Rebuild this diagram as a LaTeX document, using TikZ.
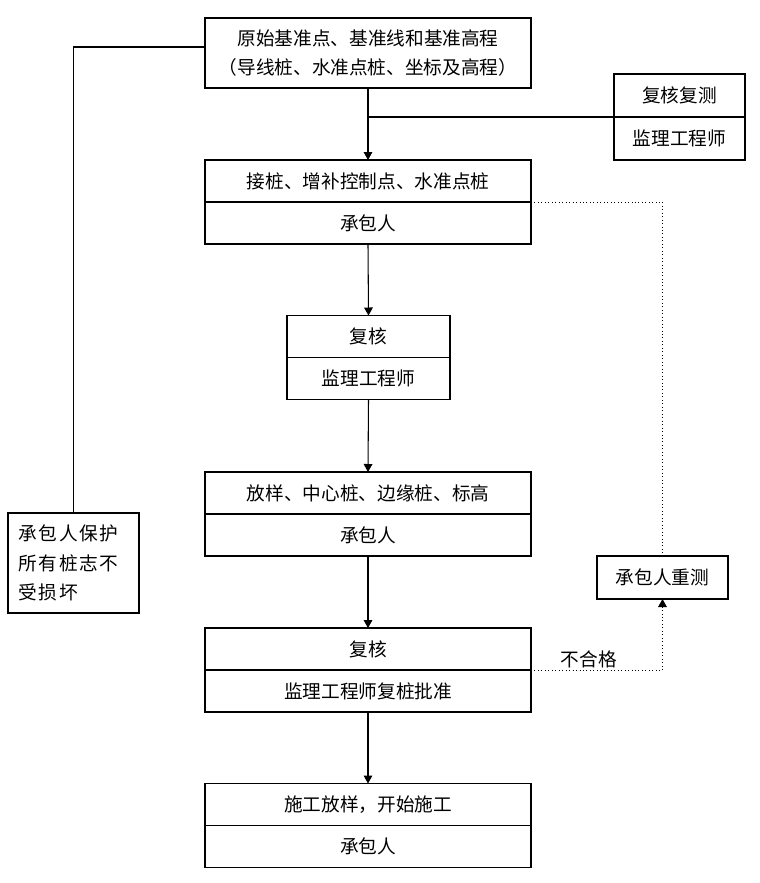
\documentclass[tikz,border=0pt]{standalone}
\usepackage{fontspec}
\setmainfont{Noto Sans CJK SC}
\usepackage{tikz}
\usetikzlibrary{positioning,arrows.meta}

\begin{document}
\begin{tikzpicture}[
x=0.75pt, y=-0.75pt,
font=\fontsize{14}{22}\selectfont,
widebox/.style={rectangle, draw, line width=0.8pt, minimum width=244.5pt, minimum height=31.5pt, inner sep=0pt, outer sep=0pt},
smallbox/.style={rectangle, draw, line width=0.8pt, minimum width=98.25pt, minimum height=32.25pt, inner sep=0pt, outer sep=0pt},
midbox/.style={rectangle, draw, line width=0.8pt, minimum width=122.25pt, minimum height=31.5pt, inner sep=0pt, outer sep=0pt},
flow/.style={line width=0.8pt, -{Triangle[width=6.5pt,length=6pt]}},
back/.style={line width=0.6pt, dotted},
]
\useasboundingbox (0,0) rectangle (760,883);

%Nodes
\node[widebox, minimum height=52.5pt, align=center] (origin) at (368,53)
  {原始基准点、基准线和基准高程\\（导线桩、水准点桩、坐标及高程）};
\node[smallbox]  (recheck)   at (679.5,95.5)         {复核复测};
\node[smallbox]  (recheckby) [below=0pt of recheck]  {监理工程师};

\node[widebox]   (stake)     at (368,181)            {接桩、增补控制点、水准点桩};
\node[widebox]   (stakeby)   [below=0pt of stake]    {承包人};

\node[midbox]    (check)     at (368.5,336.5)        {复核};
\node[midbox]    (checkby)   [below=0pt of check]    {监理工程师};

\node[widebox]   (layout)    at (368,493)            {放样、中心桩、边缘桩、标高};
\node[widebox]   (layoutby)  [below=0pt of layout]   {承包人};

\node[widebox]   (approve)   at (368,649)            {复核};
\node[widebox]   (approveby) [below=0pt of approve]  {监理工程师复桩批准};

\node[widebox]   (build)     at (368,804.5)          {施工放样，开始施工};
\node[widebox]   (buildby)   [below=0pt of build]    {承包人};

\node[smallbox, minimum height=75pt, align=left, text width=82pt,
  font=\fontsize{14}{22}\selectfont\addfontfeature{LetterSpace=8}] (protect) at (73.5,563)
  {承包人保护\\所有桩志不\\受损坏};
\node[smallbox]  (redo)      at (662.5,577.5)        {承包人重测};

%Lines
\draw[flow] (origin.south) -- (stake.north);
\draw[line width=0.8pt] (recheck.south west) -- (origin.south |- recheck.south west);
\draw[flow] (stakeby.south) -- (check.north);
\draw[flow] (checkby.south) -- (layout.north);
\draw[flow] (layoutby.south) -- (approve.north);
\draw[flow] (approveby.south) -- (build.north);
\draw[line width=0.8pt] (protect.north) |- ([yshift=4.5pt]origin.west);
\draw[back] (stake.south east) -| (redo.north);
\draw[back, -{Triangle[width=6.5pt,length=6pt]}] (approve.south east) -| (redo.south)
  node[pos=0.22, above, inner sep=1pt] {不合格};
\end{tikzpicture}
\end{document}
